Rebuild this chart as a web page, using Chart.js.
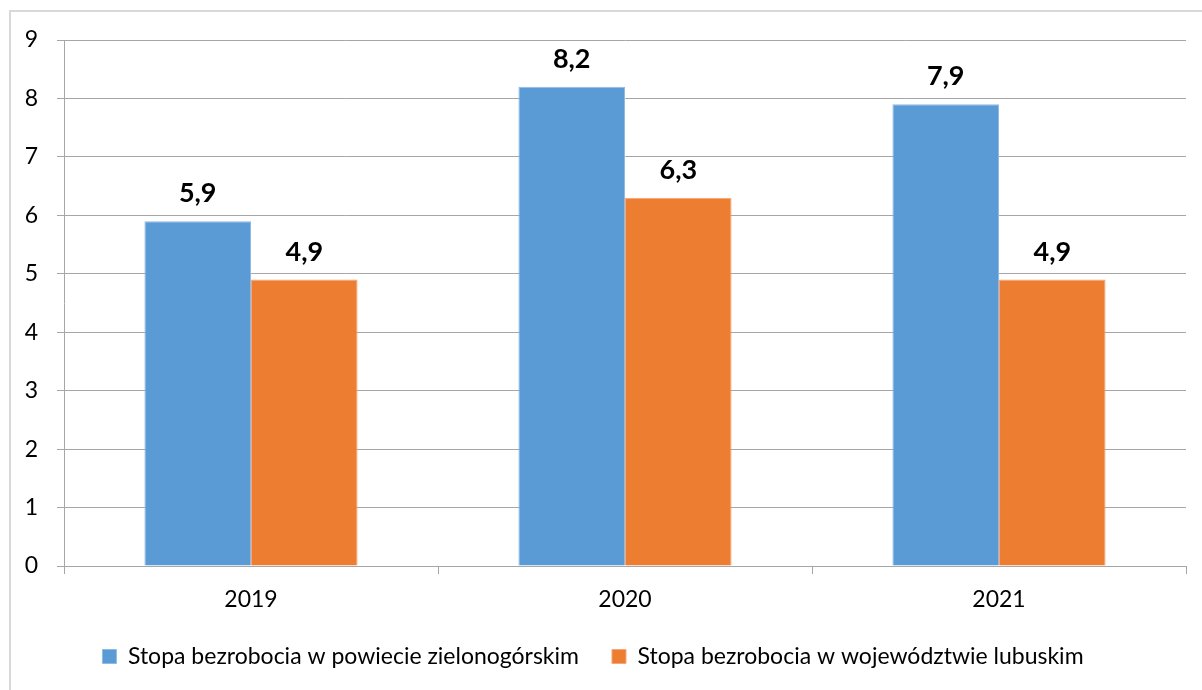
<!DOCTYPE html>
<html>
<head>
<meta charset="utf-8">
<script src="https://cdn.jsdelivr.net/npm/chart.js@4.4.0/dist/chart.umd.min.js"></script>
<style>
    html, body { margin: 0; padding: 0; background: #fff; }
    #wrap { width: 1202px; height: 690px; position: relative; }
</style>
</head>
<body>
<div id="wrap"><canvas id="chart" width="1202" height="690"></canvas></div>
<script>
const years = ['2019', '2020', '2021'];
const powiat = [5.9, 8.2, 7.9];
const wojewodztwo = [4.9, 6.3, 4.9];
const seriesNames = ['Stopa bezrobocia w powiecie zielonogórskim', 'Stopa bezrobocia w województwie lubuskim'];

const FONT = 'Lato, "Noto Sans", sans-serif';
const gridColor = '#a6a6a6';

// ramka wokol wykresu
const framePlugin = {
    id: 'frame',
    beforeDraw(chart) {
        const ctx = chart.ctx;
        ctx.save();
        ctx.fillStyle = '#fff';
        ctx.fillRect(0, 0, chart.width, chart.height);
        ctx.strokeStyle = '#d9d9d9';
        ctx.lineWidth = 2;
        ctx.strokeRect(10, 11, 1400, 900);
        ctx.restore();
    }
};

// etykiety wartosci nad slupkami
const valueLabels = {
    id: 'valueLabels',
    afterDatasetsDraw(chart) {
        const ctx = chart.ctx;
        ctx.save();
        ctx.font = 'bold 27px ' + FONT;
        ctx.fillStyle = '#000';
        ctx.textAlign = 'center';
        ctx.textBaseline = 'alphabetic';
        chart.data.datasets.forEach((ds, i) => {
            chart.getDatasetMeta(i).data.forEach((bar, j) => {
                const txt = ds.data[j].toFixed(1).replace('.', ',');
                ctx.fillText(txt, bar.x, bar.y - 19);
            });
        });
        ctx.restore();
    }
};

new Chart(document.getElementById('chart'), {
    type: 'bar',
    data: {
        labels: years,
        datasets: [
            { label: seriesNames[0], data: powiat, backgroundColor: '#5b9bd5', borderColor: '#8fbbe3', borderWidth: 1 },
            { label: seriesNames[1], data: wojewodztwo, backgroundColor: '#ed7d31', borderColor: '#f3a77a', borderWidth: 1 }
        ]
    },
    options: {
        responsive: false,
        animation: false,
        devicePixelRatio: 1,
        layout: { padding: { left: 0, right: 16, top: 40, bottom: 12 } },
        datasets: { bar: { categoryPercentage: 0.57, barPercentage: 1 } },
        scales: {
            x: {
                afterFit(scale) { scale.height = 46; },
                grid: { display: true, drawOnChartArea: false, drawTicks: true, tickLength: 8, color: gridColor, offset: true },
                border: { display: true, color: gridColor, width: 1 },
                ticks: { color: '#000', font: { family: FONT, size: 23 }, padding: 12 }
            },
            y: {
                min: 0, max: 9,
                afterFit(scale) { scale.width = 64; },
                grid: { color: gridColor, tickLength: 7, drawTicks: true },
                border: { display: true, color: gridColor, width: 1 },
                ticks: { stepSize: 1, color: '#000', font: { family: FONT, size: 23 }, padding: 19 }
            }
        },
        plugins: {
            legend: {
                position: 'bottom',
                labels: { boxWidth: 14, boxHeight: 14, color: '#000', font: { family: FONT, size: 23 }, padding: 33 }
            },
            tooltip: { enabled: false }
        }
    },
    plugins: [framePlugin, valueLabels]
});
</script>
</body>
</html>
